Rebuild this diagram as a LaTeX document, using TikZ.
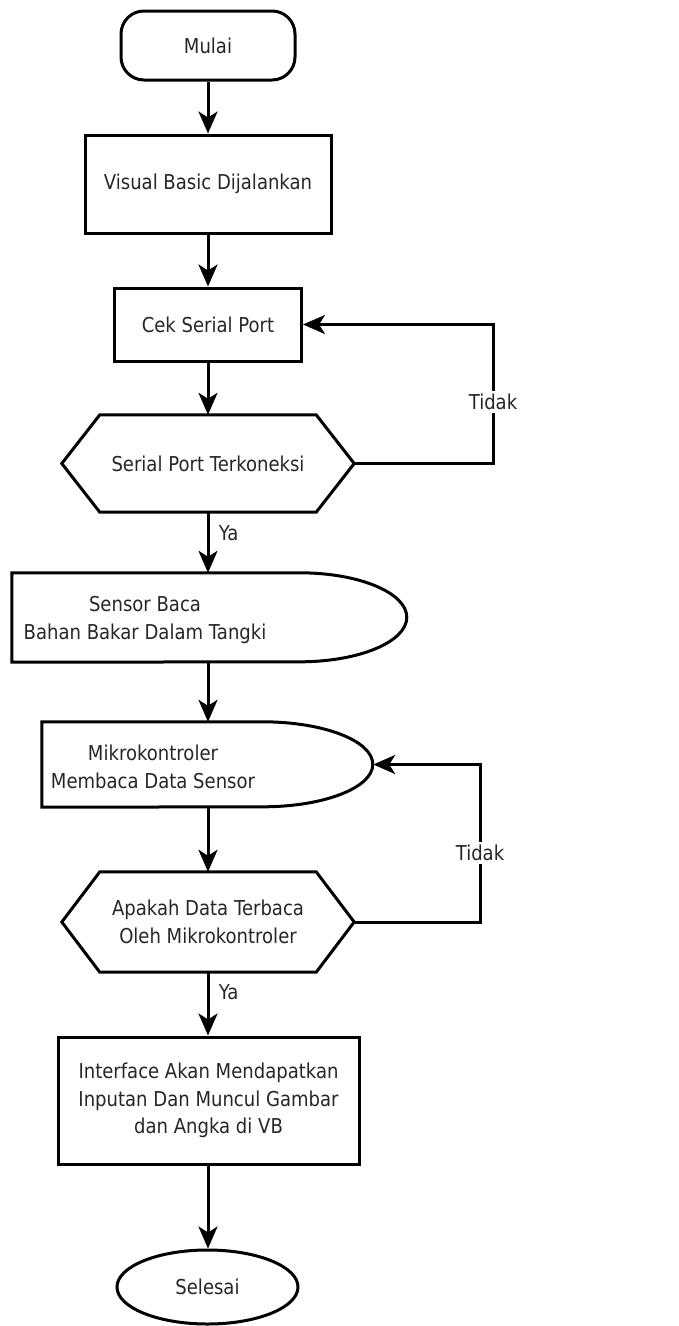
\documentclass[tikz,border=0pt]{standalone}
\usepackage{fontspec}
\setmainfont{DejaVu Sans}[FakeStretch=0.88]
\usetikzlibrary{arrows.meta, positioning, shapes.geometric}

\begin{document}
\begin{tikzpicture}[
    x=1pt, y=-1pt,
    every node/.style={font=\fontsize{20.5}{27.5}\selectfont, text=black!85},
    process/.style={draw, rectangle, align=center, inner sep=0pt, line width=3pt},
    terminal/.style={draw, rectangle, rounded corners=23pt, inner sep=0pt, line width=3pt},
    endcap/.style={draw, ellipse, inner sep=0pt, line width=3pt},
    blank/.style={inner sep=0pt, align=center},
    outline/.style={line width=3pt, line join=miter},
    arrow/.style={-{Stealth[length=22pt, width=19pt, inset=6pt]}, line width=3pt},
    tag/.style={fill=white, inner sep=3pt}
]
\useasboundingbox (0,0) rectangle (679,1326);

\node[terminal, minimum width=174pt, minimum height=69pt] (start) at (208,45.5) {Mulai};
\node[process, minimum width=246pt, minimum height=98pt] (vb) at (208,184) {Visual Basic Dijalankan};
\node[process, minimum width=187pt, minimum height=73pt] (cek) at (208,324.5) {Cek Serial Port};

% decision 1 (hexagon)
\node[blank, minimum width=292pt, minimum height=97pt] (dec1) at (208,463.5) {Serial Port Terkoneksi};
\draw[outline] (dec1.west) -- ([xshift=38pt]dec1.north west) -- ([xshift=-38pt]dec1.north east)
    -- (dec1.east) -- ([xshift=-38pt]dec1.south east) -- ([xshift=38pt]dec1.south west) -- cycle;

% sensor (rectangle with rounded right side)
\node[blank, minimum width=395pt, minimum height=89pt] (sensor) at (209.5,617.5) {};
\draw[outline] (sensor.north west) -- ++(288pt,0pt) arc[start angle=90, end angle=-90, x radius=107pt, y radius=44.5pt]
    -- (sensor.south west) -- cycle;
\node[blank] (sensorText) at (145,620) {Sensor Baca\\Bahan Bakar Dalam Tangki};

% mikrokontroler
\node[blank, minimum width=331pt, minimum height=85pt] (mikro) at (207.5,764.5) {};
\draw[outline] (mikro.north west) -- ++(221pt,0pt) arc[start angle=90, end angle=-90, x radius=110pt, y radius=42.5pt]
    -- (mikro.south west) -- cycle;
\node[blank] (mikroText) at (153,767) {Mikrokontroler\\Membaca Data Sensor};

% decision 2
\node[blank, minimum width=292pt, minimum height=100pt] (dec2) at (208,922) {Apakah Data Terbaca\\Oleh Mikrokontroler};
\draw[outline] (dec2.west) -- ([xshift=38pt]dec2.north west) -- ([xshift=-38pt]dec2.north east)
    -- (dec2.east) -- ([xshift=-38pt]dec2.south east) -- ([xshift=38pt]dec2.south west) -- cycle;

\node[process, minimum width=301pt, minimum height=127pt] (iface) at (208.5,1100.5) {Interface Akan Mendapatkan\\Inputan Dan Muncul Gambar\\dan Angka di VB};
\node[endcap, minimum width=181pt, minimum height=74pt] (finish) at (207.5,1287) {Selesai};

\coordinate (loopA) at (493,463.5);
\coordinate (loopB) at (480,922);

\draw[arrow] (start.south) -- (vb.north);
\draw[arrow] (vb.south) -- (cek.north);
\draw[arrow] (cek.south) -- (dec1.north);
\draw[arrow] (dec1.south) -- node[right, pos=0.35, xshift=6pt] {Ya} (dec1.south |- sensor.north);
\draw[arrow] (dec1.east) -- (loopA) |- node[tag, pos=0.22] {Tidak} (cek.east);
\draw[arrow] (dec1.south |- sensor.south) -- (dec1.south |- mikro.north);
\draw[arrow] (dec1.south |- mikro.south) -- (dec2.north);
\draw[arrow] (dec2.east) -- (loopB) |- node[tag, pos=0.22] {Tidak} (mikro.east);
\draw[arrow] (dec2.south) -- node[right, pos=0.31, xshift=6pt] {Ya} (dec2.south |- iface.north);
\draw[arrow] (dec2.south |- iface.south) -- (dec2.south |- finish.north);
\end{tikzpicture}
\end{document}
